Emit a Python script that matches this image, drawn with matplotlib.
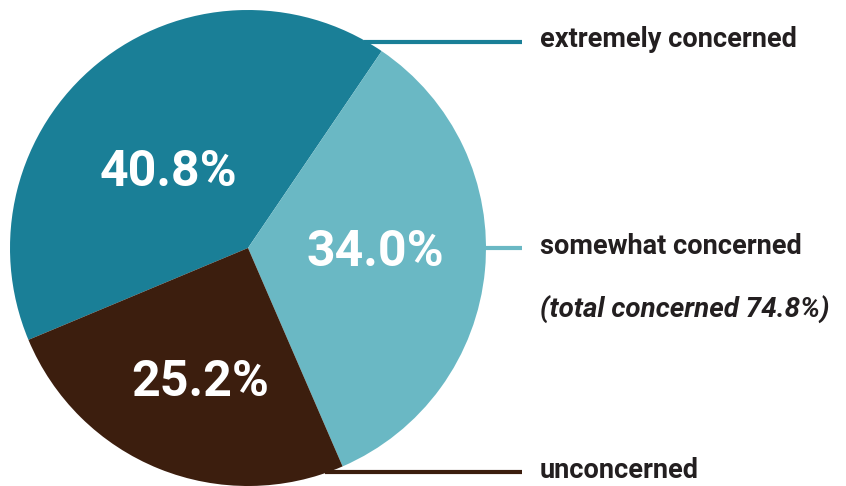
import matplotlib.pyplot as plt
import numpy as np

labels = ["extremely concerned", "somewhat concerned", "unconcerned"]
shares = [40.8, 34.0, 25.2]
colors = ["#1a7f97", "#6ab8c4", "#3c1e0e"]
note = "(total concerned 74.8%)"

W, H = 846, 486
cx, cy, r = 248, 238, 238

fig = plt.figure(figsize=(W / 100, H / 100), dpi=100)
ax = fig.add_axes([0, 0, 1, 1])

wedges, _ = ax.pie(
    shares,
    colors=colors,
    startangle=202.7,
    counterclock=False,
    center=(cx, cy),
    radius=r,
    wedgeprops=dict(linewidth=0),
)

ax.set_xlim(0, W)
ax.set_ylim(0, H)
ax.set_aspect("equal")
ax.axis("off")

font = ["Roboto", "DejaVu Sans"]

# percentage labels inside the slices
pct_pos = [(168, 486 - 172), (375, 486 - 252), (200, 486 - 383)]
for v, (x, y) in zip(shares, pct_pos):
    ax.text(x, y, f"{v:.1f}%", color="white", fontsize=36, fontweight="bold",
            family=font, ha="center", va="center")

# leader lines from the pie edge out to the category labels
line_y = [486 - 42, 486 - 248, 486 - 472]
line_end = 522
for lab, col, y in zip(labels, colors, line_y):
    dy = y - cy
    x0 = cx + np.sqrt(r ** 2 - dy ** 2) - 3
    ax.plot([x0, line_end], [y, y], color=col, lw=3, solid_capstyle="butt", zorder=0)
    ax.text(540, y + 2, lab, color="#231f20", fontsize=19.5, fontweight="bold",
            family=font, ha="left", va="center")

ax.text(540, 486 - 310, note, color="#231f20", fontsize=20, fontweight="bold",
        style="italic", family=font, ha="left", va="center")

fig.savefig("out.png", dpi=100)
